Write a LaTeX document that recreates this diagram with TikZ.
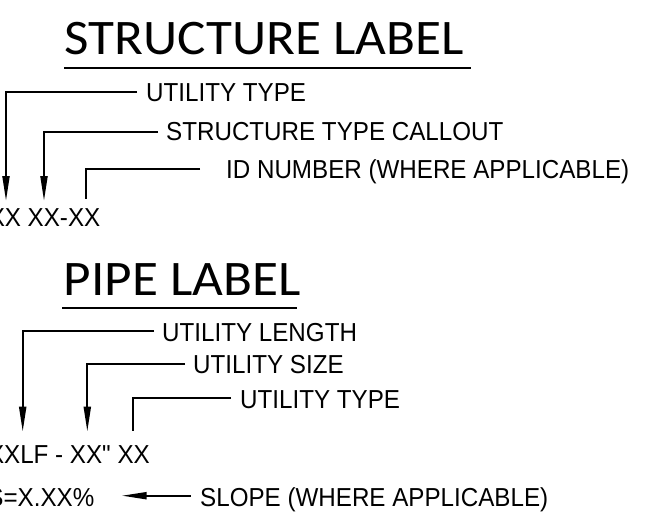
\documentclass[tikz,border=0pt]{standalone}
\usepackage{fontspec}
\usetikzlibrary{arrows.meta}
\newfontfamily\ttlfont{Carlito}[FakeStretch=1.07]
\newfontfamily\lblfont{Liberation Sans}[FakeStretch=0.93,Ligatures=TeXOff]
\begin{document}
\begin{tikzpicture}[x=1pt,y=-1pt,
  ttl/.style={inner sep=0pt,anchor=base west,font=\fontsize{49.7}{50}\ttlfont},
  lbl/.style={inner sep=0pt,anchor=base west,font=\fontsize{26}{26}\lblfont},
  val/.style={inner sep=0pt,anchor=base east,font=\fontsize{26}{26}\lblfont},
  uline/.style={line width=2pt},
  lead/.style={line width=2pt},
  leadarrow/.style={line width=2pt,-{Triangle[length=25pt,width=7pt]}}]
\useasboundingbox (0,0) rectangle (654,528);
\clip (0,0) rectangle (654,528);

% ---------- STRUCTURE LABEL ----------
\node[ttl] (t1) at (64.5,54) {STRUCTURE LABEL};
\coordinate (u1a) at (64,68);
\coordinate (u1b) at (471,68);
\draw[uline] (u1a) -- (u1b);

\node[lbl] (s1) at (146,101.7) {UTILITY TYPE};
\node[lbl] (s2) at (166,140) {STRUCTURE TYPE CALLOUT};
\node[lbl] (s3) at (226,178.7) {ID NUMBER (WHERE APPLICABLE)};
\node[val] (sv) at (100.5,226.5) {XX XX-XX};

\coordinate (s1a) at (137,91.7);
\coordinate (s1b) at (6,201);
\coordinate (s2a) at (158,132.3);
\coordinate (s2b) at (44,201);
\coordinate (s3a) at (200,169.3);
\coordinate (s3b) at (86,199);
\draw[leadarrow] (s1a) -| (s1b);
\draw[leadarrow] (s2a) -| (s2b);
\draw[lead] (s3a) -| (s3b);

% ---------- PIPE LABEL ----------
\node[ttl] (t2) at (63.5,295) {PIPE LABEL};
\coordinate (u2a) at (62,308.3);
\coordinate (u2b) at (297,308.3);
\draw[uline] (u2a) -- (u2b);

\node[lbl] (p1) at (162,341) {UTILITY LENGTH};
\node[lbl] (p2) at (193,373.8) {UTILITY SIZE};
\node[lbl] (p3) at (240,408.3) {UTILITY TYPE};
\node[val] (pv) at (150,463.3) {XXLF - XX" XX};
\node[val] (sl) at (94.5,506.5) {S=X.XX\%};
\node[lbl] (st) at (200,506) {SLOPE (WHERE APPLICABLE)};

\coordinate (p1a) at (154,331);
\coordinate (p1b) at (22.7,431.7);
\coordinate (p2a) at (185,364.3);
\coordinate (p2b) at (87.3,431.7);
\coordinate (p3a) at (231,397.7);
\coordinate (p3b) at (133.3,431);
\coordinate (sa) at (190.7,495.7);
\coordinate (sb) at (121.7,495.7);
\draw[leadarrow] (p1a) -| (p1b);
\draw[leadarrow] (p2a) -| (p2b);
\draw[lead] (p3a) -| (p3b);
\draw[leadarrow] (sa) -- (sb);
\end{tikzpicture}
\end{document}
